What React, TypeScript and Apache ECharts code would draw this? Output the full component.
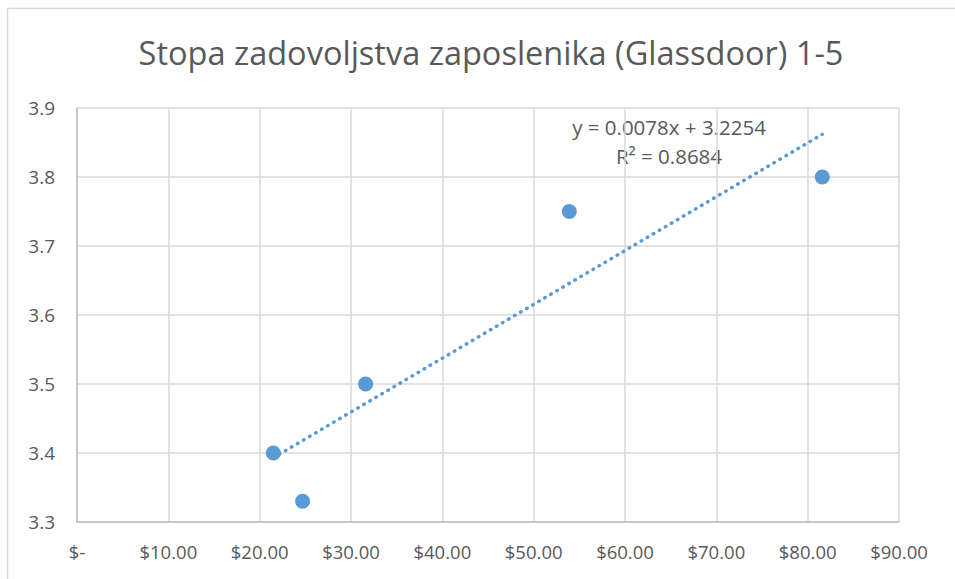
import React, { useEffect, useRef } from "react";
import * as echarts from "echarts";

const titleText = "Stopa zadovoljstva zaposlenika (Glassdoor) 1-5";
const xValues = [21.5, 24.7, 31.6, 53.9, 81.6];
const yValues = [3.4, 3.33, 3.5, 3.75, 3.8];
const trendSlope = 0.0078;
const trendIntercept = 3.2254;
const trendLabel = ["y = 0.0078x + 3.2254", "R² = 0.8684"];

const FONT = "'Open Sans', 'Liberation Sans', sans-serif";

export default function App() {
  const ref = useRef<HTMLDivElement>(null);
  useEffect(() => {
    if (!ref.current) return;
    const chart = echarts.init(ref.current, null, { renderer: "svg" });
    const xMin = Math.min(...xValues);
    const xMax = Math.max(...xValues);
    const trend = [
      [xMin, trendSlope * xMin + trendIntercept],
      [xMax, trendSlope * xMax + trendIntercept],
    ];
    chart.setOption({
      animation: false,
      backgroundColor: "#ffffff",
      title: {
        text: titleText,
        left: 486,
        textAlign: "center",
        top: 31,
        textStyle: { fontFamily: FONT, fontSize: 32.5, fontWeight: "normal", color: "#595959" },
      },
      grid: { left: 77, right: 56, top: 108, bottom: 57, containLabel: false },
      xAxis: {
        type: "value",
        min: 0,
        max: 90,
        interval: 10,
        axisLine: { show: true, lineStyle: { color: "#BFBFBF", width: 1.5 } },
        axisTick: { show: false },
        splitLine: { show: true, lineStyle: { color: "#D9D9D9", width: 1.5 } },
        axisLabel: {
          margin: 20,
          fontFamily: FONT,
          fontSize: 18.5,
          color: "#595959",
          formatter: (v: number) => (v === 0 ? "$-" : "$" + v.toFixed(2)),
        },
      },
      yAxis: {
        type: "value",
        min: 3.3,
        max: 3.9,
        interval: 0.1,
        axisLine: { show: true, lineStyle: { color: "#BFBFBF", width: 1.5 } },
        axisTick: { show: false },
        splitLine: { show: true, lineStyle: { color: "#D9D9D9", width: 1.5 } },
        axisLabel: {
          margin: 22,
          fontFamily: FONT,
          fontSize: 19,
          color: "#595959",
          formatter: (v: number) => v.toFixed(1),
        },
      },
      series: [
        {
          type: "line",
          data: trend,
          symbol: "none",
          lineStyle: { color: "#5B9BD5", width: 3.5, type: [0.5, 6.5], cap: "round" },
          z: 2,
          silent: true,
        },
        {
          type: "scatter",
          data: xValues.map((x, i) => [x, yValues[i]]),
          symbolSize: 15,
          itemStyle: { color: "#5B9BD5", opacity: 1 },
          z: 3,
        },
      ],
      graphic: [
        {
          type: "rect",
          shape: { x: 7.5, y: 8.5, width: 1000, height: 1000 },
          style: { fill: "none", stroke: "#D9D9D9", lineWidth: 1.5 },
          silent: true,
        },
        {
          type: "text",
          x: 669,
          y: 127,
          style: {
            text: trendLabel[0],
            fontFamily: FONT,
            fontSize: 20.5,
            fill: "#595959",
            align: "center",
            verticalAlign: "middle",
          },
        },
        {
          type: "text",
          x: 669,
          y: 156,
          style: {
            text: trendLabel[1],
            fontFamily: FONT,
            fontSize: 20.5,
            fill: "#595959",
            align: "center",
            verticalAlign: "middle",
          },
        },
      ],
    });
    return () => chart.dispose();
  }, []);
  return <div ref={ref} style={{ width: 955, height: 579, position: "absolute", left: 0, top: 0 }} />;
}
